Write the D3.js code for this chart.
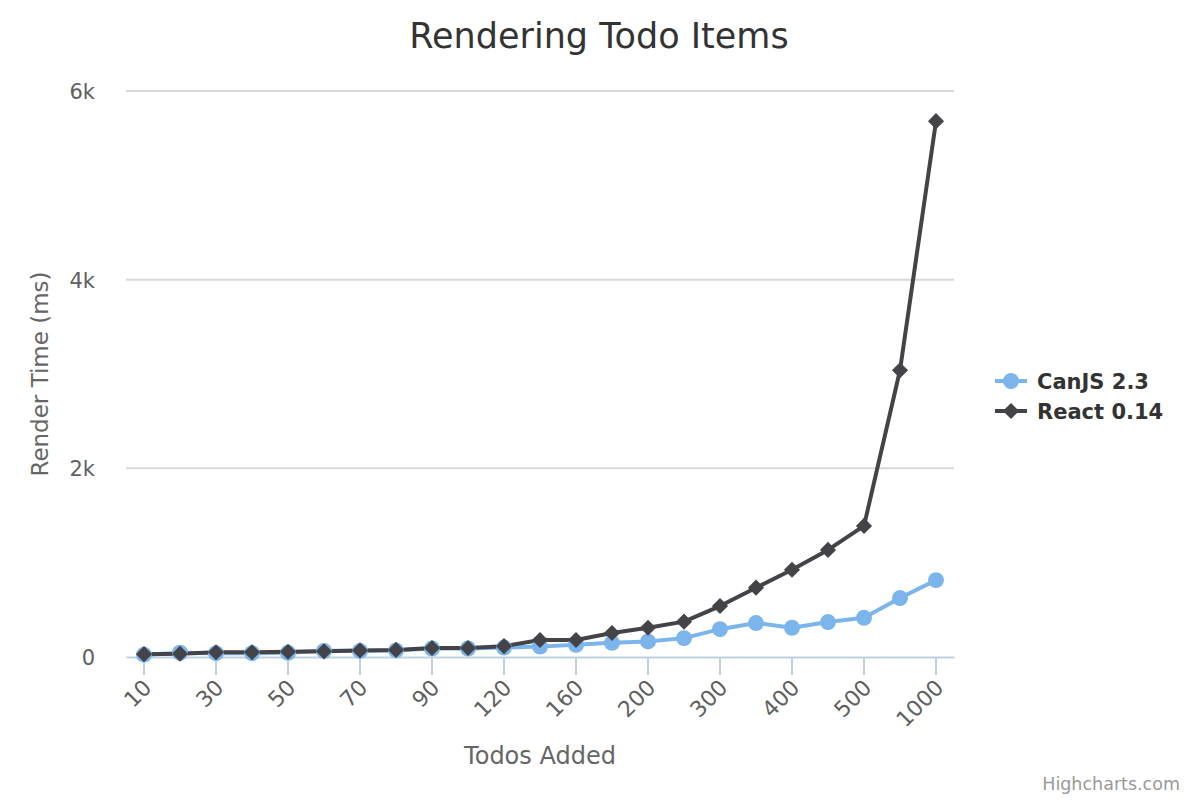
<!DOCTYPE html>
<html>
<head>
<meta charset="utf-8">
<script src="https://cdn.jsdelivr.net/npm/d3@7"></script>
<style>
  body { margin: 0; background: #fff; }
  svg { display: block; font-family: "DejaVu Sans", "Lucida Grande", sans-serif; }
</style>
</head>
<body>
<svg id="chart" width="1200" height="800"></svg>
<script>
const categories = ["10","20","30","40","50","60","70","80","90","100","120","140","160","180","200","250","300","350","400","450","500","750","1000"];
const canjsValues = [25,45,40,40,45,65,65,70,90,90,100,110,130,150,165,200,295,360,310,370,415,625,815];
const reactValues = [30,35,50,50,55,60,70,75,95,95,115,180,180,255,310,375,540,735,925,1135,1390,3040,5680];
const yTicks = [0,2000,4000,6000];
const labelEvery = 2;

(function () {
const svg = d3.select("#chart");
const pLeft = 126, pRight = 954, pTop = 91, pBottom = 657;

const x = d3.scaleBand().domain(categories).range([pLeft, pRight]).padding(0);
const cx = d => x(d) + x.bandwidth() / 2;
const y = d3.scaleLinear().domain([0, 6000]).range([pBottom, pTop]);

// title
svg.append("text").attr("x", 599).attr("y", 48).attr("text-anchor", "middle")
  .attr("font-size", 35).attr("fill", "#333").text("Rendering Todo Items");

// grid
svg.append("g").selectAll("line").data(yTicks.filter(d => d > 0)).join("line")
  .attr("x1", pLeft).attr("x2", pRight).attr("y1", d => y(d)).attr("y2", d => y(d))
  .attr("stroke", "#D8D8D8").attr("stroke-width", 2);

// y axis labels
const fmt = d => d === 0 ? "0" : (d / 1000) + "k";
svg.append("g").selectAll("text").data(yTicks).join("text")
  .attr("x", 95).attr("y", d => y(d) + 8).attr("text-anchor", "end")
  .attr("font-size", 21).attr("fill", "#606060").text(fmt);

svg.append("text").attr("transform", `translate(48,${374}) rotate(-90)`)
  .attr("text-anchor", "middle").attr("font-size", 23).attr("fill", "#666")
  .text("Render Time (ms)");

// x axis
const xAxis = d3.axisBottom(x)
  .tickValues(categories.filter((d, i) => i % labelEvery === 0))
  .tickSize(18).tickSizeOuter(0).tickPadding(8);
const gx = svg.append("g").attr("transform", `translate(0,${pBottom})`).call(xAxis);
gx.select(".domain").attr("stroke", "#C0D0E0").attr("stroke-width", 2);
gx.selectAll(".tick line").attr("stroke", "#C0D0E0").attr("stroke-width", 2);
gx.selectAll(".tick text")
  .attr("font-size", 22).attr("fill", "#606060")
  .attr("font-family", "DejaVu Sans, sans-serif")
  .attr("text-anchor", "end").attr("dy", null)
  .attr("transform", "translate(9,32) rotate(-45)")
  .attr("y", 0).attr("x", 0);

svg.append("text").attr("x", 540).attr("y", 764).attr("text-anchor", "middle")
  .attr("font-size", 24).attr("fill", "#666").text("Todos Added");

// lines
const line = d3.line().x((d, i) => cx(categories[i])).y(d => y(d));
const series = [
  { name: "CanJS 2.3", values: canjsValues, color: "#7cb5ec", symbol: d3.symbolCircle, size: 200, rot: "" },
  { name: "React 0.14", values: reactValues, color: "#434348", symbol: d3.symbolSquare, size: 130, rot: " rotate(45)" }
];
series.forEach(s => {
  svg.append("path").attr("d", line(s.values)).attr("fill", "none")
    .attr("stroke", s.color).attr("stroke-width", 4).attr("stroke-linejoin", "round");
});
series.forEach(s => {
  svg.append("g").selectAll("path").data(s.values).join("path")
    .attr("transform", (d, i) => `translate(${cx(categories[i])},${y(d)})` + s.rot)
    .attr("d", d3.symbol().type(s.symbol).size(s.size))
    .attr("fill", s.color);
});

// legend
const lg = svg.append("g");
series.forEach((s, i) => {
  const ly = 381 + i * 30;
  lg.append("line").attr("x1", 995).attr("x2", 1027).attr("y1", ly).attr("y2", ly)
    .attr("stroke", s.color).attr("stroke-width", 4);
  lg.append("path").attr("transform", `translate(1011,${ly})` + s.rot)
    .attr("d", d3.symbol().type(s.symbol).size(s.size)).attr("fill", s.color);
  lg.append("text").attr("x", 1037).attr("y", ly + 8).attr("font-size", 21)
    .attr("font-weight", "bold").attr("fill", "#333").text(s.name);
});

// credits
svg.append("text").attr("x", 1180).attr("y", 790).attr("text-anchor", "end")
  .attr("font-size", 17.5).attr("fill", "#999").text("Highcharts.com");
})();
</script>
</body>
</html>
